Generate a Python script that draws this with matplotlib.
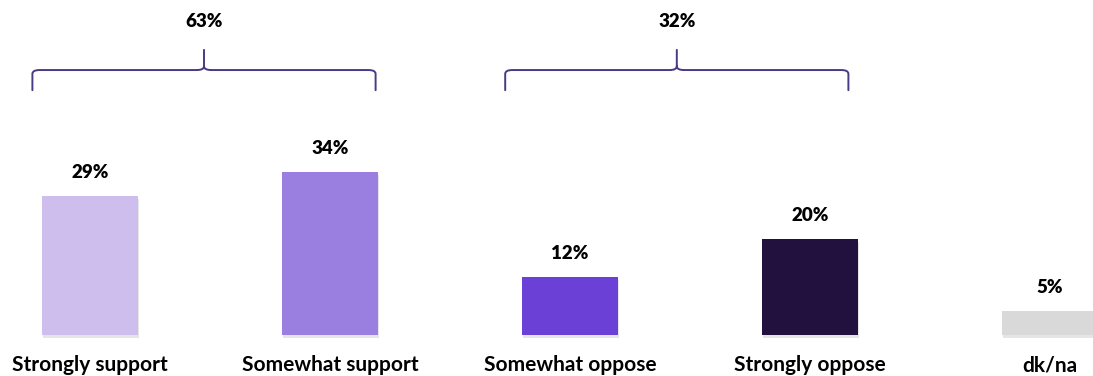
import matplotlib.pyplot as plt
from matplotlib.path import Path
from matplotlib.patches import PathPatch
import numpy as np

categories = ["Strongly support", "Somewhat support", "Somewhat oppose", "Strongly oppose", "dk/na"]
values = [29, 34, 12, 20, 5]
colors = ["#CDBEEE", "#9B7FE0", "#6B40D6", "#22113F", "#D9D9D9"]
group_labels = ["63%", "32%"]
group_members = [[0, 1], [2, 3]]

plt.rcParams['font.family'] = ['Lato', 'DejaVu Sans']

fig = plt.figure(figsize=(10.93, 3.76), dpi=100)
ax = fig.add_axes([0, 0, 1, 1])
x = np.arange(len(categories))

# faint shadow under bars
ax.bar(x + 0.004, values, width=0.4, bottom=-0.6, color="#000000", alpha=0.10, zorder=1)
ax.bar(x, values, width=0.4, color=colors, zorder=2)

for xi, v in zip(x, values):
    ax.text(xi, v + 4.9, f"{v}%", ha='center', va='center', fontsize=13.5, fontweight='heavy')
for xi, c in zip(x, categories):
    ax.text(xi, -6.3, c, ha='center', va='center', fontsize=15, fontweight='bold')


def brace(ax, x0, x1, y, h_end, h_tip, color):
    xc = (x0 + x1) / 2
    r = 0.03
    d = 0.8
    verts = [
        (x0, y - h_end), (x0, y - d), (x0, y), (x0 + r, y),
        (xc - r, y), (xc, y), (xc, y + d), (xc, y + h_tip),
        (xc, y + d), (xc, y), (xc + r, y),
        (x1 - r, y), (x1, y), (x1, y - d), (x1, y - h_end),
    ]
    codes = [Path.MOVETO, Path.LINETO, Path.CURVE3, Path.CURVE3,
             Path.LINETO, Path.CURVE3, Path.CURVE3, Path.LINETO,
             Path.MOVETO, Path.CURVE3, Path.CURVE3,
             Path.LINETO, Path.CURVE3, Path.CURVE3, Path.LINETO]
    ax.add_patch(PathPatch(Path(verts, codes), fill=False, edgecolor=color, lw=1.4,
                           capstyle='round', joinstyle='round'))
    return xc


brace_pad = [(0.24, 0.19), (0.27, 0.16)]
for lab, members, (pl, pr) in zip(group_labels, group_members, brace_pad):
    x0 = members[0] - pl
    x1 = members[-1] + pr
    xc = brace(ax, x0, x1, 55.2, 4.2, 4.2, "#4A3985")
    ax.text(xc, 65.3, lab, ha='center', va='center', fontsize=13.5, fontweight='heavy')

ax.set_xlim(-0.375, (1093 - 90) / 240)
ax.set_ylim(-41 / 4.8, 335 / 4.8)
ax.axis('off')

plt.savefig("out.png", dpi=100)
